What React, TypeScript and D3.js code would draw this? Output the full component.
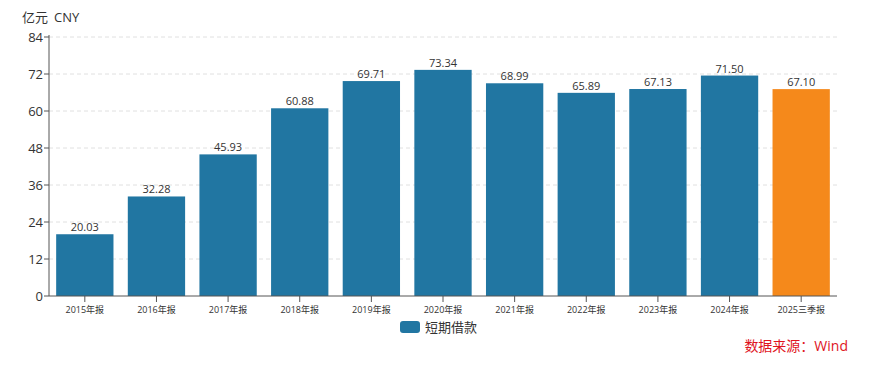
import React from "react";
import * as d3 from "d3";

const categories = ["2015年报","2016年报","2017年报","2018年报","2019年报","2020年报","2021年报","2022年报","2023年报","2024年报","2025三季报"];
const values = [20.03,32.28,45.93,60.88,69.71,73.34,68.99,65.89,67.13,71.5,67.1];
const yTicks = [0,12,24,36,48,60,72,84];
const seriesName = "短期借款";
const unitLabel = "亿元";
const unitCode = "CNY";
const sourceLabel = "数据来源：Wind";

const W = 869, H = 366;
const left = 49, right = 837, top = 37, bottom = 296;
const FONT = "'Open Sans', 'Noto Sans CJK SC', sans-serif";

export default function App() {
  const x = d3.scaleBand<string>().domain(categories).range([left, right]).paddingInner(0.2).paddingOuter(0.1);
  const y = d3.scaleLinear().domain([0, 84]).range([bottom, top]);
  const blue = "#2176a2";
  const orange = "#f5891b";
  return (
    <svg width={W} height={H} style={{ position: "absolute", left: 0, top: 0, background: "#fff" }} fontFamily={FONT}>
      <text x={22} y={22} fontSize={13} fill="#333">{unitLabel}</text>
      <text x={54} y={22} fontSize={13} fill="#333">{unitCode}</text>
      {yTicks.map(t => (
        <g key={t}>
          {t > 0 && <line x1={left} x2={right} y1={y(t)} y2={y(t)} stroke="#e0e0e0" strokeDasharray="4,3" />}
          <line x1={left - 5} x2={left} y1={y(t)} y2={y(t)} stroke="#555" />
          <text x={left - 6} y={y(t)} dy="0.35em" textAnchor="end" fontSize={13} fill="#333">{t}</text>
        </g>
      ))}
      {categories.map((c, i) => {
        const isLast = i === categories.length - 1;
        const bx = x(c)!;
        return (
          <g key={c}>
            <rect x={bx} y={y(values[i])} width={x.bandwidth()} height={bottom - y(values[i])} fill={isLast ? orange : blue} />
            <text x={bx + x.bandwidth() / 2} y={y(values[i]) - 3} textAnchor="middle" fontSize={11} fill="#333">{values[i].toFixed(2)}</text>
            <line x1={bx + x.bandwidth() / 2} x2={bx + x.bandwidth() / 2} y1={bottom} y2={bottom + 6} stroke="#555" />
            <text x={bx + x.bandwidth() / 2} y={bottom + 17} textAnchor="middle" fontSize={9} fill="#333">{c}</text>
          </g>
        );
      })}
      <line x1={left} x2={left} y1={top - 2} y2={bottom} stroke="#555" />
      <line x1={left} x2={right} y1={bottom} y2={bottom} stroke="#555" />
      <rect x={400} y={321} width={20} height={12} rx={3} fill={blue} />
      <text x={425} y={331.5} fontSize={13} fill="#333">{seriesName}</text>
      <text x={848} y={351} textAnchor="end" fontSize={14} fill="#e0141e">{sourceLabel}</text>
    </svg>
  );
}
